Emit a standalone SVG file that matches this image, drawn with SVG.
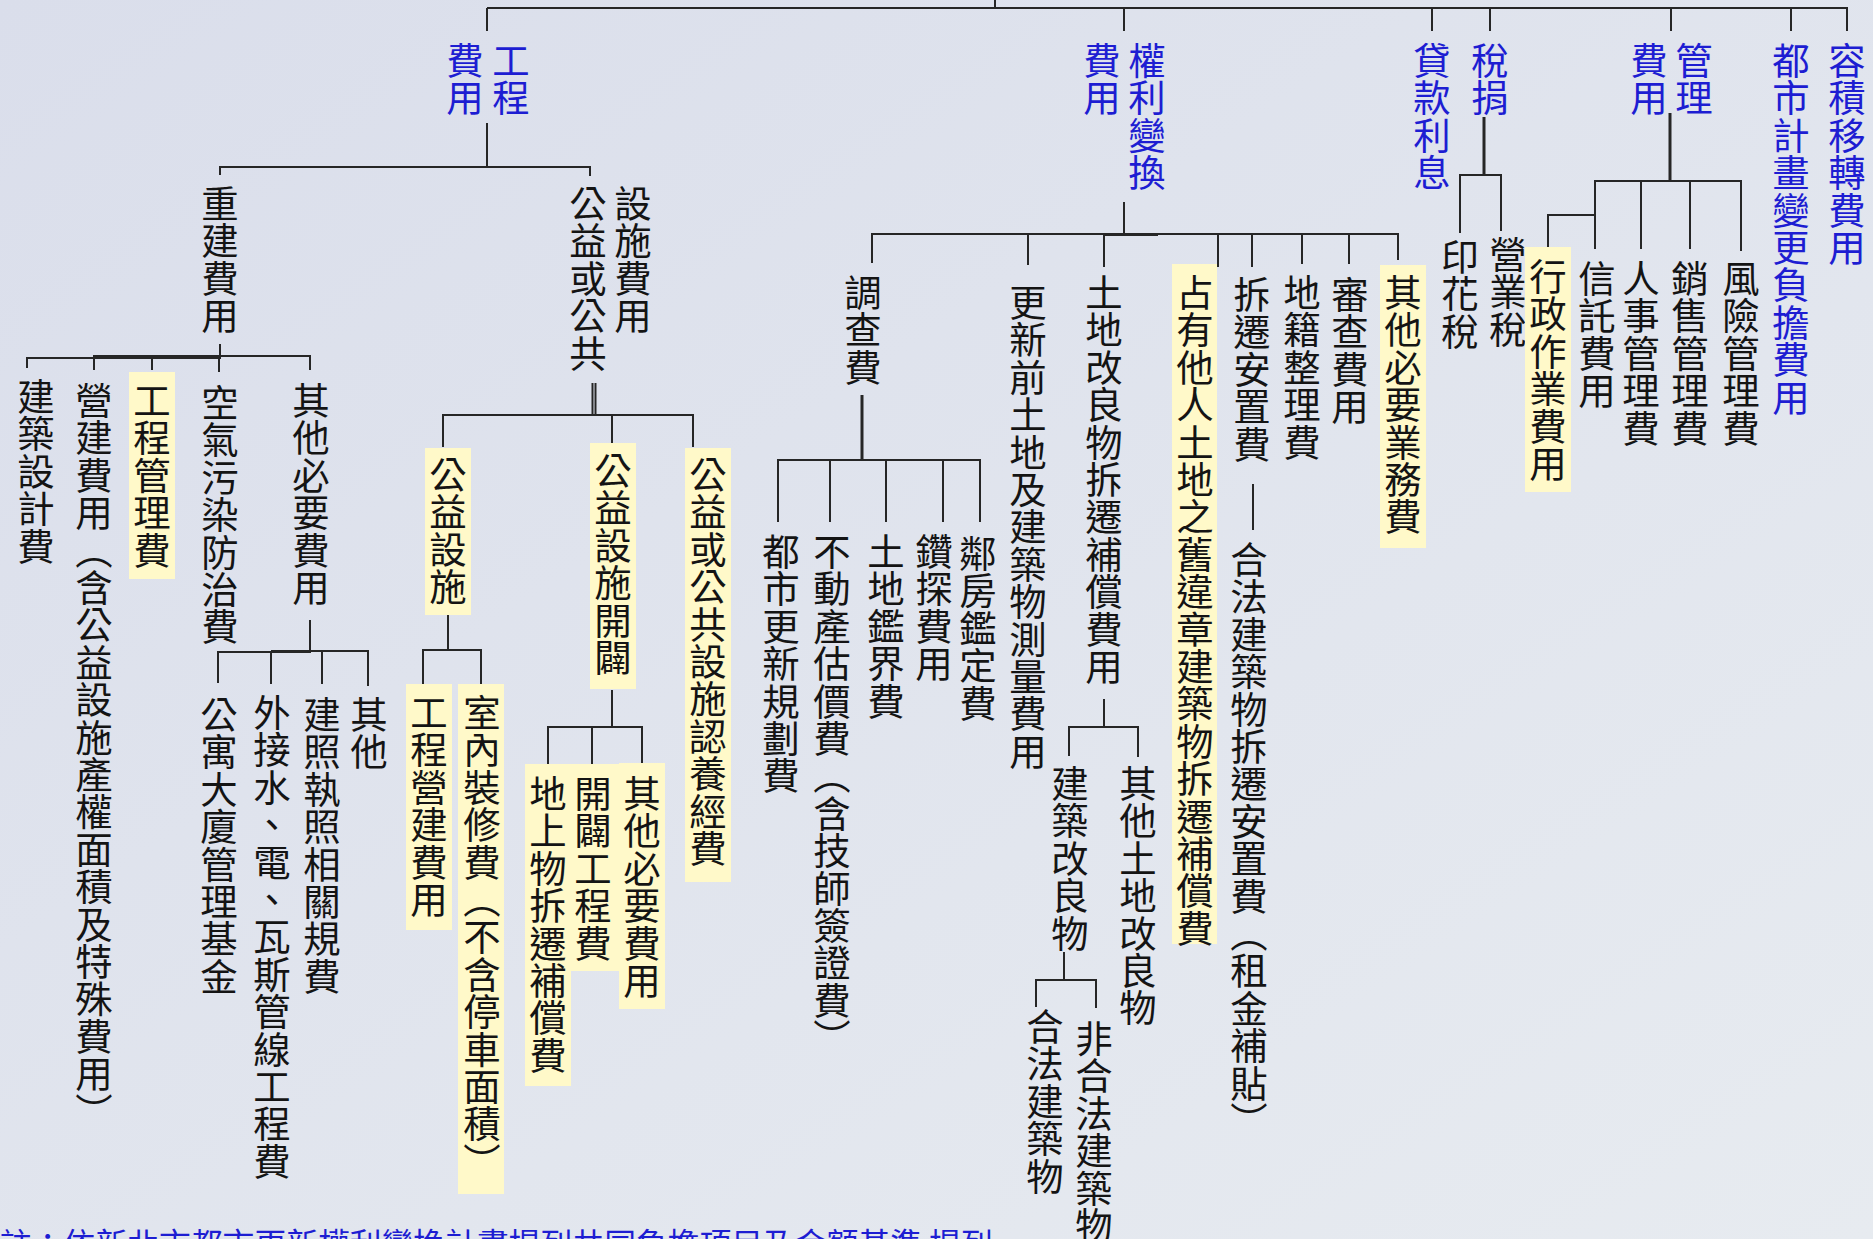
<svg xmlns="http://www.w3.org/2000/svg" width="1873" height="1239" viewBox="0 0 1873 1239">
<defs>
<linearGradient id="bg" x1="0" y1="0" x2="1" y2="1">
<stop offset="0" stop-color="#dadeeb"/>
<stop offset="1" stop-color="#e7ebf0"/>
</linearGradient>
</defs>
<style>
text{font-family:"Noto Sans CJK TC","Noto Sans CJK SC",sans-serif;}
.v{writing-mode:vertical-rl;font-size:37.4px;fill:#141414;}
.b{fill:#1d1dd2;}
.hl{fill:#fff9c9;}
#connectors line{stroke:#262626;stroke-width:2;}
#connectors line.k{stroke-width:3;}
.note{font-size:31.8px;fill:#1d1dd2;}
</style>
<rect x="0" y="0" width="1873" height="1239" fill="url(#bg)"/>

<g id="connectors">
<!-- root -->
<line x1="995" y1="0" x2="995" y2="8"/>
<line x1="487" y1="8" x2="1848" y2="8"/>
<line x1="487" y1="8" x2="487" y2="31"/>
<line x1="1124" y1="8" x2="1124" y2="31"/>
<line x1="1432" y1="8" x2="1432" y2="31"/>
<line x1="1490" y1="8" x2="1490" y2="31"/>
<line x1="1671" y1="8" x2="1671" y2="31"/>
<line x1="1791" y1="8" x2="1791" y2="31"/>
<line x1="1847" y1="8" x2="1847" y2="31"/>
<!-- 工程費用 -->
<line x1="487" y1="123" x2="487" y2="167"/>
<line x1="219" y1="167" x2="591" y2="167"/>
<line x1="220" y1="167" x2="220" y2="175"/>
<line x1="590" y1="167" x2="590" y2="176"/>
<!-- 重建費用 -->
<line x1="220" y1="344" x2="220" y2="358"/>
<line x1="26" y1="358" x2="221" y2="358"/>
<line x1="93" y1="356" x2="311" y2="356"/>
<line x1="27" y1="358" x2="27" y2="368"/>
<line x1="94" y1="356" x2="94" y2="370"/>
<line x1="152" y1="357" x2="152" y2="370"/>
<line x1="219" y1="358" x2="219" y2="372"/>
<line x1="310" y1="356" x2="310" y2="370"/>
<!-- 其他必要費用(重建) -->
<line x1="310" y1="620" x2="310" y2="651"/>
<line x1="217" y1="652" x2="311" y2="652"/>
<line x1="271" y1="651" x2="369" y2="651"/>
<line x1="218" y1="652" x2="218" y2="683"/>
<line x1="271" y1="651" x2="271" y2="684"/>
<line x1="322" y1="651" x2="322" y2="684"/>
<line x1="368" y1="651" x2="368" y2="686"/>
<!-- 公益或公共設施費用 -->
<line x1="592.5" y1="383" x2="592.5" y2="415"/>
<line x1="595.5" y1="383" x2="595.5" y2="415"/>
<line x1="442" y1="415" x2="694" y2="415"/>
<line x1="443" y1="415" x2="443" y2="447"/>
<line x1="612" y1="415" x2="612" y2="443"/>
<line x1="693" y1="415" x2="693" y2="447"/>
<!-- 公益設施 -->
<line x1="448" y1="615" x2="448" y2="650"/>
<line x1="422" y1="650" x2="482" y2="650"/>
<line x1="423" y1="650" x2="423" y2="684"/>
<line x1="481" y1="650" x2="481" y2="684"/>
<!-- 公益設施開闢 -->
<line x1="612" y1="690" x2="612" y2="727"/>
<line x1="547" y1="727" x2="643" y2="727"/>
<line x1="548" y1="727" x2="548" y2="764"/>
<line x1="592" y1="727" x2="592" y2="764"/>
<line x1="642" y1="727" x2="642" y2="763"/>
<!-- 權利變換費用 -->
<line x1="1124" y1="202" x2="1124" y2="234"/>
<line x1="871" y1="234" x2="1399" y2="234"/>
<line x1="1104" y1="235" x2="1158" y2="235"/>
<line x1="872" y1="234" x2="872" y2="263"/>
<line x1="1028" y1="234" x2="1028" y2="265"/>
<line x1="1104" y1="234" x2="1104" y2="267"/>
<line x1="1218" y1="234" x2="1218" y2="267"/>
<line x1="1252" y1="234" x2="1252" y2="267"/>
<line x1="1302" y1="234" x2="1302" y2="264"/>
<line x1="1349" y1="234" x2="1349" y2="264"/>
<line x1="1398" y1="234" x2="1398" y2="260"/>
<!-- 調查費 -->
<line class="k" x1="862" y1="395" x2="862" y2="460"/>
<line x1="777" y1="460" x2="981" y2="460"/>
<line x1="778" y1="460" x2="778" y2="522"/>
<line x1="830" y1="460" x2="830" y2="522"/>
<line x1="886" y1="460" x2="886" y2="522"/>
<line x1="943" y1="460" x2="943" y2="522"/>
<line x1="980" y1="460" x2="980" y2="522"/>
<!-- 土地改良物 -->
<line x1="1104" y1="699" x2="1104" y2="727"/>
<line x1="1068" y1="727" x2="1139" y2="727"/>
<line x1="1069" y1="727" x2="1069" y2="756"/>
<line x1="1138" y1="727" x2="1138" y2="757"/>
<!-- 建築改良物 -->
<line x1="1064" y1="952" x2="1064" y2="980"/>
<line x1="1035" y1="980" x2="1097" y2="980"/>
<line x1="1036" y1="980" x2="1036" y2="1007"/>
<line x1="1096" y1="980" x2="1096" y2="1008"/>
<!-- 拆遷安置費 dash -->
<line x1="1253" y1="484" x2="1253" y2="530"/>
<!-- 稅捐 -->
<line class="k" x1="1484" y1="117" x2="1484" y2="175"/>
<line x1="1459" y1="175" x2="1502" y2="175"/>
<line x1="1460" y1="175" x2="1460" y2="233"/>
<line x1="1501" y1="175" x2="1501" y2="231"/>
<!-- 管理費用 -->
<line class="k" x1="1670" y1="113" x2="1670" y2="181"/>
<line x1="1594" y1="181" x2="1742" y2="181"/>
<line x1="1595" y1="181" x2="1595" y2="249"/>
<line x1="1641" y1="181" x2="1641" y2="249"/>
<line x1="1690" y1="181" x2="1690" y2="249"/>
<line x1="1741" y1="181" x2="1741" y2="251"/>
<line x1="1547" y1="215" x2="1595" y2="215"/>
<line x1="1548" y1="215" x2="1548" y2="247"/>
</g>

<!-- level 1 (blue) -->
<g id="n-gongcheng"><text class="v b" x="511" y="42">工程</text><text class="v b" x="465" y="42">費用</text></g>
<g id="n-quanli"><text class="v b" x="1147" y="42">權利變換</text><text class="v b" x="1102" y="42">費用</text></g>
<g id="n-daikuan"><text class="v b" x="1432" y="42">貸款利息</text></g>
<g id="n-shuijuan"><text class="v b" x="1490" y="42">稅捐</text></g>
<g id="n-guanli"><text class="v b" x="1694" y="42">管理</text><text class="v b" x="1649" y="42">費用</text></g>
<g id="n-dushi"><text class="v b" x="1791" y="42">都市計畫變更負擔費用</text></g>
<g id="n-rongji"><text class="v b" x="1847" y="42">容積移轉費用</text></g>

<!-- 工程費用 children -->
<g id="n-chongjian"><text class="v" x="220" y="185">重建費用</text></g>
<g id="n-gongyi"><text class="v" x="588" y="185">公益或公共</text><text class="v" x="633" y="185">設施費用</text></g>

<g id="n-jianzhusheji"><text class="v" x="36" y="378">建築設計費</text></g>
<g id="n-yingjian"><text class="v" x="94" y="382">營建費用（含公益設施產權面積及特殊費用）</text></g>
<g id="n-gongchengguanli"><rect class="hl" x="129" y="372" width="46" height="207"/><text class="v" x="152" y="382">工程管理費</text></g>
<g id="n-kongqi"><text class="v" x="220" y="384">空氣污染防治費</text></g>
<g id="n-qita1"><text class="v" x="311" y="382">其他必要費用</text></g>

<g id="n-gongyu"><text class="v" x="219" y="696">公寓大廈管理基金</text></g>
<g id="n-waijie"><text class="v" x="272" y="694">外接水、電、瓦斯管線工程費</text></g>
<g id="n-jianzhao"><text class="v" x="322" y="696">建照執照相關規費</text></g>
<g id="n-qita2"><text class="v" x="369" y="696">其他</text></g>

<g id="n-gongyisheshi"><rect class="hl" x="425" y="448" width="46" height="167"/><text class="v" x="448" y="456">公益設施</text></g>
<g id="n-kaipi"><rect class="hl" x="590" y="443" width="46" height="246"/><text class="v" x="613" y="452">公益設施開闢</text></g>
<g id="n-renyang"><rect class="hl" x="685" y="448" width="46" height="434"/><text class="v" x="708" y="456">公益或公共設施認養經費</text></g>

<g id="n-gcyj"><rect class="hl" x="406" y="684" width="46" height="246"/><text class="v" x="429" y="694">工程營建費用</text></g>
<g id="n-shinei"><rect class="hl" x="458" y="684" width="46" height="510"/><text class="v" x="482" y="694">室內裝修費（不含停車面積）</text></g>

<g id="n-dishangwu"><rect class="hl" x="525" y="764" width="46" height="322"/><text class="v" x="548" y="775">地上物拆遷補償費</text></g>
<g id="n-kaipigc"><rect class="hl" x="571" y="764" width="48" height="207"/><text class="v" x="593" y="775">開闢工程費</text></g>
<g id="n-qita3"><rect class="hl" x="619" y="763" width="46" height="246"/><text class="v" x="642" y="775">其他必要費用</text></g>

<!-- 權利變換費用 children -->
<g id="n-diaocha"><text class="v" x="863" y="274">調查費</text></g>
<g id="n-celiang"><text class="v" x="1028" y="284">更新前土地及建築物測量費用</text></g>
<g id="n-tudigailiang"><text class="v" x="1104" y="274">土地改良物拆遷補償費用</text></g>
<g id="n-zhanyou"><rect class="hl" x="1172" y="264" width="45" height="680"/><text class="v" x="1195" y="274">占有他人土地之舊違章建築物拆遷補償費</text></g>
<g id="n-chaiqian"><text class="v" x="1252" y="276">拆遷安置費</text><text class="v" x="1249" y="541">合法建築物拆遷安置費（租金補貼）</text></g>
<g id="n-diji"><text class="v" x="1302" y="274">地籍整理費</text></g>
<g id="n-shencha"><text class="v" x="1350" y="276">審查費用</text></g>
<g id="n-qita4"><rect class="hl" x="1380" y="265" width="46" height="283"/><text class="v" x="1403" y="274">其他必要業務費</text></g>

<g id="n-guihua"><text class="v" x="781" y="533">都市更新規劃費</text></g>
<g id="n-gujia"><text class="v" x="832" y="533">不動產估價費（含技師簽證費）</text></g>
<g id="n-jianjie"><text class="v" x="886" y="533">土地鑑界費</text></g>
<g id="n-zuantan"><text class="v" x="934" y="533">鑽探費用</text></g>
<g id="n-linfang"><text class="v" x="978" y="535">鄰房鑑定費</text></g>

<g id="n-jianzhugailiang"><text class="v" x="1070" y="765">建築改良物</text></g>
<g id="n-qitatudi"><text class="v" x="1138" y="765">其他土地改良物</text></g>
<g id="n-hefa"><text class="v" x="1045" y="1008">合法建築物</text></g>
<g id="n-feihefa"><text class="v" x="1094" y="1020">非合法建築物</text></g>

<!-- 稅捐 children -->
<g id="n-yinhua"><text class="v" x="1460" y="238">印花稅</text></g>
<g id="n-yingye"><text class="v" x="1508" y="236">營業稅</text></g>

<!-- 管理費用 children -->
<g id="n-xingzheng"><rect class="hl" x="1525" y="247" width="46" height="245"/><text class="v" x="1548" y="258">行政作業費用</text></g>
<g id="n-xintuo"><text class="v" x="1597" y="260">信託費用</text></g>
<g id="n-renshi"><text class="v" x="1641" y="260">人事管理費</text></g>
<g id="n-xiaoshou"><text class="v" x="1690" y="260">銷售管理費</text></g>
<g id="n-fengxian"><text class="v" x="1741" y="260">風險管理費</text></g>

<g id="note"><text class="note" x="0" y="1256">註：依新北市都市更新權利變換計畫提列共同負擔項目及金額基準 提列</text></g>
</svg>
